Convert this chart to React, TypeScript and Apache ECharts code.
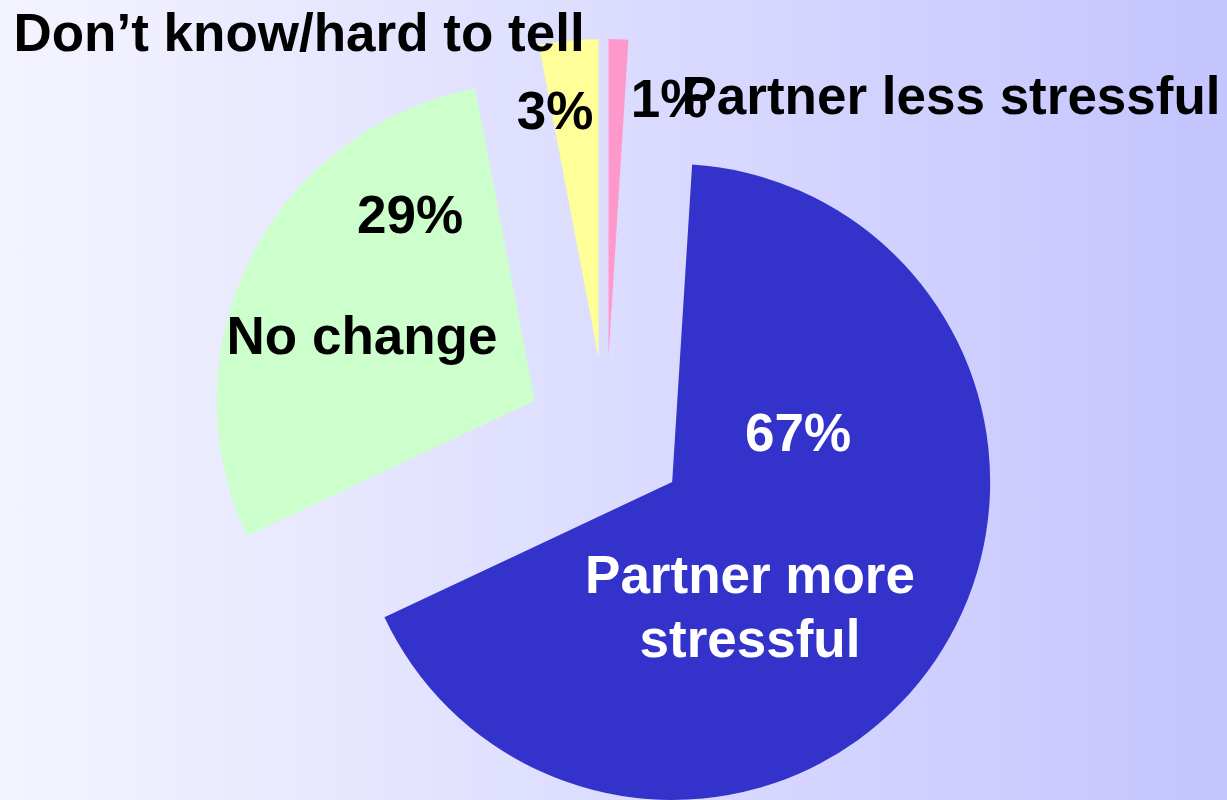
import React, { useEffect, useRef } from "react";
import * as echarts from "echarts";

// Data (clockwise from 12 o'clock)
const categories = [
  "Partner less stressful",
  "Partner more stressful",
  "No change",
  "Don\u2019t know/hard to tell",
];
const values = [1, 67, 29, 3];
const colors = ["#FF99CC", "#3333CC", "#CCFFCC", "#FFFF99"];

const FONT = "'Liberation Sans', Arial, Helvetica, sans-serif";

export default function App() {
  const ref = useRef<HTMLDivElement>(null);

  useEffect(() => {
    if (!ref.current) return;
    const chart = echarts.init(ref.current, undefined, { renderer: "svg" });

    const pct = values.map((v) => `${v}%`);

    const txt = (
      text: string,
      x: number,
      y: number,
      fill: string,
      lineHeight?: number
    ) => ({
      type: "text",
      x,
      y,
      silent: true,
      z: 10,
      style: {
        text,
        fill,
        font: `bold 53px ${FONT}`,
        textAlign: "center",
        textVerticalAlign: "middle",
        verticalAlign: "middle",
        lineHeight: lineHeight || 60,
      },
    });

    chart.setOption({
      animation: false,
      graphic: [
        {
          type: "rect",
          z: -100,
          silent: true,
          shape: { x: 0, y: 0, width: 1227, height: 800 },
          style: {
            fill: new echarts.graphic.LinearGradient(0, 0, 1, 0, [
              { offset: 0, color: "#F4F4FF" },
              { offset: 1, color: "#C4C4FF" },
            ]),
          },
        },
        txt(categories[3], 299, 32, "#000"),
        txt(pct[3], 555, 110, "#000"),
        txt(pct[0], 669, 98, "#000"),
        txt(categories[0], 951, 95, "#000"),
        txt(pct[2], 410, 214, "#000"),
        txt(categories[2], 362, 335, "#000"),
        txt(pct[1], 798, 432, "#FFFFFF"),
        txt("Partner more\nstressful", 750, 606, "#FFFFFF", 64),
      ],
      series: [
        {
          type: "pie",
          center: [606, 437],
          radius: [0, 318],
          startAngle: 90,
          clockwise: true,
          selectedMode: "multiple",
          selectedOffset: 80,
          label: { show: false },
          labelLine: { show: false },
          emphasis: { disabled: true },
          itemStyle: { borderWidth: 0 },
          data: categories.map((name, i) => ({
            name,
            value: values[i],
            selected: true,
            itemStyle: { color: colors[i], borderWidth: 0 },
            select: { itemStyle: { color: colors[i], borderWidth: 0 } },
          })),
        },
      ],
    });

    return () => chart.dispose();
  }, []);

  return (
    <div
      ref={ref}
      style={{
        position: "fixed",
        left: 0,
        top: 0,
        width: 1227,
        height: 800,
      }}
    />
  );
}
